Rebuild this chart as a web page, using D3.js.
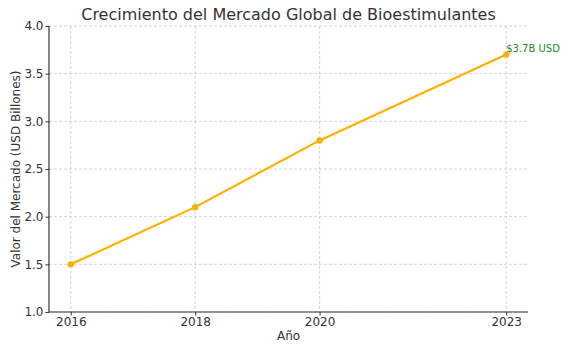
<!DOCTYPE html>
<html><head><meta charset="utf-8">
<script src="https://cdn.jsdelivr.net/npm/d3@7"></script>
<style>body{margin:0;background:#fff;}svg{display:block;font-family:"DejaVu Sans",sans-serif;}</style>
</head><body><svg id="c" width="572" height="351"></svg>
<script>
const years = [2016, 2018, 2020, 2023];
const values = [1.5, 2.1, 2.8, 3.7];
const yTicks = [1.0, 1.5, 2.0, 2.5, 3.0, 3.5, 4.0];
const title = "Crecimiento del Mercado Global de Bioestimulantes";
const xLabel = "Año";
const yLabel = "Valor del Mercado (USD Billones)";
const note = "$3.7B USD";

const svg = d3.select("#c");
const L = 49, R = 528, T = 26, B = 312;
const x = d3.scaleLinear().domain([2015.65, 2023.35]).range([L, R]);
const y = d3.scaleLinear().domain([1.0, 4.0]).range([B, T]);

const g = svg.append("g");
// grid
g.selectAll(".gx").data(years).enter().append("line")
  .attr("x1", d => x(d)).attr("x2", d => x(d)).attr("y1", T).attr("y2", B)
  .attr("stroke", "#cccccc").attr("stroke-width", 0.8).attr("stroke-dasharray", "3,2");
g.selectAll(".gy").data(yTicks).enter().append("line")
  .attr("x1", L).attr("x2", R).attr("y1", d => y(d)).attr("y2", d => y(d))
  .attr("stroke", "#cccccc").attr("stroke-width", 0.8).attr("stroke-dasharray", "3,2");

// axes
const xAxis = d3.axisBottom(x).tickValues(years).tickFormat(d3.format("d")).tickSize(3.5).tickPadding(2);
const yAxis = d3.axisLeft(y).tickValues(yTicks).tickFormat(d3.format(".1f")).tickSize(3.5).tickPadding(2);
const gx = svg.append("g").attr("transform", `translate(0,${B})`).call(xAxis);
const gy = svg.append("g").attr("transform", `translate(${L},0)`).call(yAxis);
[gx, gy].forEach(a => {
  a.attr("font-family", null).attr("font-size", null);
  a.select(".domain").attr("stroke", "#333").attr("stroke-width", 1.2);
  a.selectAll(".tick line").attr("stroke", "#333");
  a.selectAll("text").attr("fill", "#333").style("font-size", "12px").style("font-family", "DejaVu Sans");
});
gx.select(".domain").attr("d", `M${L},0H${R}`);
gy.select(".domain").attr("d", `M0,${B}V${T}`);

// line
svg.append("path").datum(years.map((d, i) => [d, values[i]]))
  .attr("fill", "none").attr("stroke", "#FFB000").attr("stroke-width", 2.2)
  .attr("d", d3.line().x(d => x(d[0])).y(d => y(d[1])));
svg.selectAll(".pt").data(years).enter().append("circle")
  .attr("cx", d => x(d)).attr("cy", (d, i) => y(values[i])).attr("r", 3.2).attr("fill", "#FFB000");

// annotation
svg.append("text").attr("x", x(2023)).attr("y", y(3.7) - 2.5).text(note)
  .attr("fill", "#228B22").style("font-size", "10px");

// title & labels
svg.append("text").attr("x", (L + R) / 2).attr("y", 20).attr("text-anchor", "middle")
  .attr("fill", "#333").style("font-size", "16px").text(title);
svg.append("text").attr("x", (L + R) / 2).attr("y", 340).attr("text-anchor", "middle")
  .attr("fill", "#333").style("font-size", "12px").text(xLabel);
svg.append("text").attr("transform", `translate(20,${(T + B) / 2}) rotate(-90)`).attr("text-anchor", "middle")
  .attr("fill", "#333").style("font-size", "12px").text(yLabel);
</script></body></html>
